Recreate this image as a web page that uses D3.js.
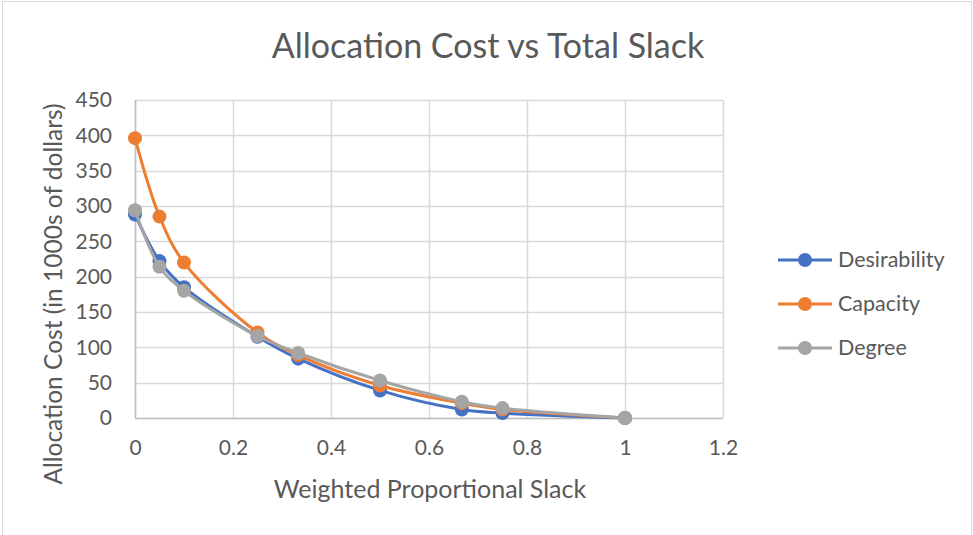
<!DOCTYPE html>
<html>
<head>
<meta charset="utf-8">
<script src="https://cdn.jsdelivr.net/npm/d3@7"></script>
<style>
  body { margin: 0; background: #fff; }
  text { font-family: Lato, "Open Sans", sans-serif; fill: #595959; }
</style>
</head>
<body>
<svg id="chart" width="973" height="535"></svg>
<script>
// Weighted proportional slack levels (x values)
const slack = [0, 0.05, 0.1, 0.25, 0.333, 0.5, 0.667, 0.75, 1];
// Allocation cost, in thousands of dollars, per weighting scheme
const desirability = [288, 222, 185, 115, 84, 39, 12, 7, 0];
const capacity = [396, 285, 220, 121, 89, 46, 21, 12, 0];
const degree = [294, 214, 180, 116, 92, 53, 23, 14, 0];
const seriesNames = ["Desirability", "Capacity", "Degree"];
const xTicks = [0, 0.2, 0.4, 0.6, 0.8, 1, 1.2];
const yTicks = [0, 50, 100, 150, 200, 250, 300, 350, 400, 450];

const colors = ["#4472C4", "#ED7D31", "#A5A5A5"];
const seriesValues = [desirability, capacity, degree];

const svg = d3.select("#chart");
const plot = { left: 135, right: 723, top: 100, bottom: 418 };

const x = d3.scaleLinear().domain([0, 1.2]).range([plot.left, plot.right]);
const y = d3.scaleLinear().domain([0, 450]).range([plot.bottom, plot.top]);

// outer chart border
svg.append("rect")
  .attr("x", 2.5).attr("y", 1.5).attr("width", 969).attr("height", 545)
  .attr("fill", "none").attr("stroke", "#d9d9d9").attr("stroke-width", 1);

// title
svg.append("text")
  .attr("x", 488).attr("y", 58)
  .attr("text-anchor", "middle")
  .style("font-size", "34px")
  .text("Allocation Cost vs Total Slack");

// gridlines
const grid = svg.append("g");
grid.selectAll("line.h").data(yTicks).join("line")
  .attr("x1", plot.left).attr("x2", plot.right)
  .attr("y1", d => Math.round(y(d)) + 0.5).attr("y2", d => Math.round(y(d)) + 0.5)
  .attr("stroke", "#d9d9d9").attr("stroke-width", 1.5);
grid.selectAll("line.v").data(xTicks).join("line")
  .attr("y1", plot.top).attr("y2", plot.bottom)
  .attr("x1", d => Math.round(x(d)) + 0.5).attr("x2", d => Math.round(x(d)) + 0.5)
  .attr("stroke", "#d9d9d9").attr("stroke-width", 1.5);

// axes (labels only; gridlines stand in for ticks)
const xAxis = d3.axisBottom(x).tickValues(xTicks).tickSize(0).tickPadding(0)
  .tickFormat(d => d3.format("")(+d.toFixed(1)));
svg.append("g").attr("transform", `translate(0,${plot.bottom + 22})`)
  .call(xAxis)
  .call(g => g.select(".domain").remove())
  .selectAll("text").style("font-size", "21px").attr("dy", "0.71em");

const yAxis = d3.axisLeft(y).tickValues(yTicks).tickSize(0).tickPadding(0);
svg.append("g").attr("transform", `translate(${plot.left - 23},0)`)
  .call(yAxis)
  .call(g => g.select(".domain").remove())
  .selectAll("text").style("font-size", "21px");

// axis lines
svg.append("line")
  .attr("x1", plot.left).attr("x2", plot.right)
  .attr("y1", plot.bottom + 0.5).attr("y2", plot.bottom + 0.5)
  .attr("stroke", "#bfbfbf").attr("stroke-width", 1.5);
svg.append("line")
  .attr("x1", plot.left + 0.5).attr("x2", plot.left + 0.5)
  .attr("y1", plot.top).attr("y2", plot.bottom)
  .attr("stroke", "#bfbfbf").attr("stroke-width", 1.5);

// axis titles
svg.append("text")
  .attr("x", 430).attr("y", 498)
  .attr("text-anchor", "middle")
  .style("font-size", "25px")
  .text("Weighted Proportional Slack");
svg.append("text")
  .attr("transform", "translate(62,294) rotate(-90)")
  .attr("text-anchor", "middle")
  .style("font-size", "24.5px")
  .text("Allocation Cost (in 1000s of dollars)");

// series: smoothed lines with circle markers
const line = d3.line()
  .x((d, i) => x(slack[i]))
  .y(d => y(d))
  .curve(d3.curveCatmullRom.alpha(0.5));

seriesValues.forEach((vals, si) => {
  const g = svg.append("g");
  g.append("path")
    .attr("d", line(vals))
    .attr("fill", "none")
    .attr("stroke", colors[si])
    .attr("stroke-width", 3)
    .attr("stroke-linejoin", "round")
    .attr("stroke-linecap", "round");
  g.selectAll("circle").data(vals).join("circle")
    .attr("cx", (d, i) => x(slack[i]))
    .attr("cy", d => y(d))
    .attr("r", 7)
    .attr("fill", colors[si]);
});

// legend
const legend = svg.append("g");
seriesNames.forEach((name, i) => {
  const ly = 260 + i * 44;
  legend.append("line")
    .attr("x1", 778).attr("x2", 832).attr("y1", ly).attr("y2", ly)
    .attr("stroke", colors[i]).attr("stroke-width", 3);
  legend.append("circle")
    .attr("cx", 805).attr("cy", ly).attr("r", 7).attr("fill", colors[i]);
  legend.append("text")
    .attr("x", 838).attr("y", ly + 7)
    .style("font-size", "21.5px")
    .text(name);
});
</script>
</body>
</html>
